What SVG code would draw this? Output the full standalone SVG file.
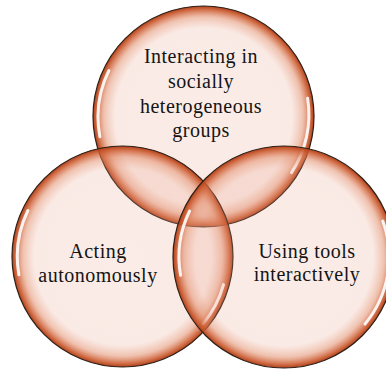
<svg xmlns="http://www.w3.org/2000/svg" width="386" height="369" viewBox="0 0 386 369">
  <defs>
    <radialGradient id="glass" cx="50%" cy="50%" r="50%">
      <stop offset="0" stop-color="#E9A088" stop-opacity="0.2"/>
      <stop offset="0.8" stop-color="#E9A088" stop-opacity="0.22"/>
      <stop offset="0.9" stop-color="#E08560" stop-opacity="0.5"/>
      <stop offset="0.97" stop-color="#C9562A" stop-opacity="0.88"/>
      <stop offset="1" stop-color="#AE401A" stop-opacity="1"/>
    </radialGradient>
    <filter id="soft" x="-20%" y="-20%" width="140%" height="140%">
      <feGaussianBlur stdDeviation="0.7"/>
    </filter>
  </defs>
  <style>
    .circle { fill: url(#glass); stroke: #2e2018; stroke-width: 1.2; }
    .hl { fill: none; stroke: #ffffff; stroke-width: 3; stroke-linecap: round; opacity: 0.9; filter: url(#soft); }
    .label { font-family: "Liberation Serif", "DejaVu Serif", serif; font-size: 20px; letter-spacing: 0.5px; fill: #141414; text-anchor: middle; }
  </style>

  <g id="node-social">
    <circle class="circle" cx="203.5" cy="116.5" r="110.5"/>
    <path class="hl" d="M 99.9 136.7 A 105 105 0 0 1 108.9 70.5"/>
    <path class="hl" d="M 307.6 98.2 A 105 105 0 0 1 291.5 172.6"/>
    <text class="label"><tspan x="201" y="63">Interacting in</tspan><tspan x="201" y="88">socially</tspan><tspan x="201" y="113">heterogeneous</tspan><tspan x="201" y="137">groups</tspan></text>
  </g>

  <g id="node-autonomous">
    <circle class="circle" cx="122.5" cy="256.5" r="110.5"/>
    <path class="hl" d="M 18.9 274.7 A 105 105 0 0 1 27.9 210.5"/>
    <path class="hl" d="M 223.5 284.6 A 105 105 0 0 1 203 323.8"/>
    <text class="label"><tspan x="98" y="258">Acting</tspan><tspan x="98" y="282">autonomously</tspan></text>
  </g>

  <g id="node-tools">
    <circle class="circle" cx="284" cy="257" r="111"/>
    <path class="hl" d="M 180.6 275.2 A 105 105 0 0 1 189.6 211"/>
    <path class="hl" d="M 382.8 221.1 A 105 105 0 0 1 365 324"/>
    <text class="label"><tspan x="307" y="258">Using tools</tspan><tspan x="307" y="281">interactively</tspan></text>
  </g>
</svg>
